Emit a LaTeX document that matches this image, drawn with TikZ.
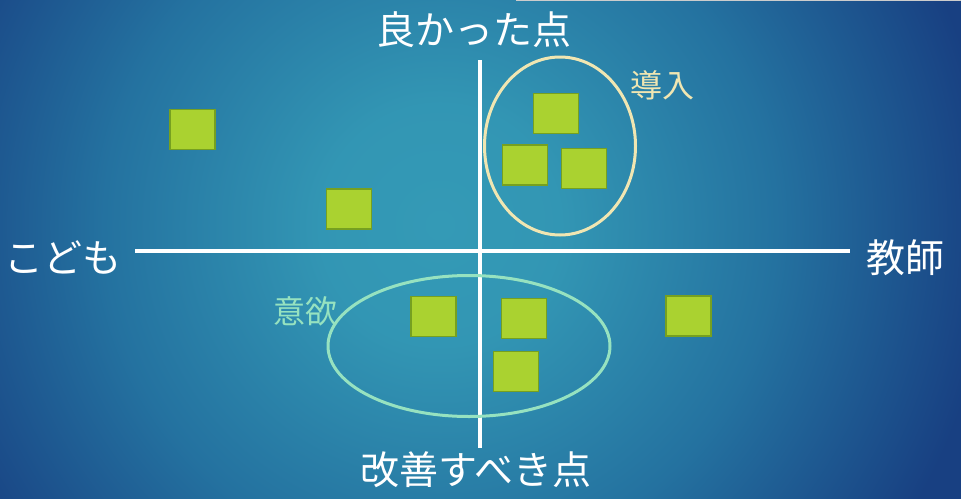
\documentclass[tikz,border=0pt]{standalone}
\usepackage{fontspec}
\newfontfamily\jp{Noto Sans CJK JP}
\usetikzlibrary{shapes.geometric}
\definecolor{glowc}{RGB}{52,154,182}
\definecolor{midc}{RGB}{36,114,160}
\definecolor{edgec}{RGB}{24,64,130}
\definecolor{stickyfill}{RGB}{170,210,48}
\definecolor{stickyline}{RGB}{118,160,32}
\definecolor{creamc}{RGB}{240,230,178}
\definecolor{mintc}{RGB}{150,226,192}
\pgfdeclareradialshading{bgglow}{\pgfpoint{0bp}{0bp}}{color(0bp)=(glowc); color(5bp)=(glowc!90!midc); color(14bp)=(midc); color(23bp)=(edgec); color(50bp)=(edgec)}
\tikzset{
  sticky/.style={draw=stickyline, line width=1.4pt, fill=stickyfill, minimum width=45pt, minimum height=40pt, inner sep=0pt},
  axisline/.style={white, line width=4pt},
  biglabel/.style={text=white, font=\jp\fontsize{39}{42}\selectfont, inner sep=0pt},
  grouplabel/.style={font=\jp\fontsize{32}{35}\selectfont, inner sep=0pt},
  group/.style={ellipse, line width=3pt, inner sep=0pt}
}
\begin{document}
\begin{tikzpicture}[x=1pt, y=-1pt]
\useasboundingbox (0,0) rectangle (961,498);
\begin{scope}
\clip (0,0) rectangle (961,498);
\fill[edgec] (0,0) rectangle (961,498);
\shade[shading=bgglow] (440,225) circle (600);
\end{scope}
\draw[gray!40, line width=1.5pt] (516,0.7) -- (961,0.7);
% axes
\coordinate (hl) at (135,251);
\coordinate (hr) at (850,251);
\coordinate (vt) at (480,60);
\coordinate (vb) at (480,448);
\draw[axisline] (hl) -- (hr);
\draw[axisline] (vt) -- (vb);
% axis labels
\node[biglabel] (good) at (474,30) {良かった点};
\node[biglabel] (child) at (63,257) {こども};
\node[biglabel] (teacher) at (905,258) {教師};
\node[biglabel] (improve) at (476,470) {改善すべき点};
% groups
\node[group, draw=creamc, minimum width=151pt, minimum height=178pt] (intro) at (560,146) {};
\node[group, draw=mintc, minimum width=282pt, minimum height=141pt] (motiv) at (469,346) {};
\node[grouplabel, text=creamc] (introlabel) at (662,85) {導入};
\node[grouplabel, text=mintc] (motivlabel) at (305,311) {意欲};
% sticky notes
\node[sticky] (s1) at (192.5,129.5) {};
\node[sticky] (s2) at (349,209) {};
\node[sticky] (s3) at (556,113.5) {};
\node[sticky] (s4) at (525,165) {};
\node[sticky] (s5) at (584,168.5) {};
\node[sticky] (s6) at (433.5,316.5) {};
\node[sticky] (s7) at (524,318.5) {};
\node[sticky] (s8) at (516,371.5) {};
\node[sticky] (s9) at (688.5,316) {};
\end{tikzpicture}
\end{document}
